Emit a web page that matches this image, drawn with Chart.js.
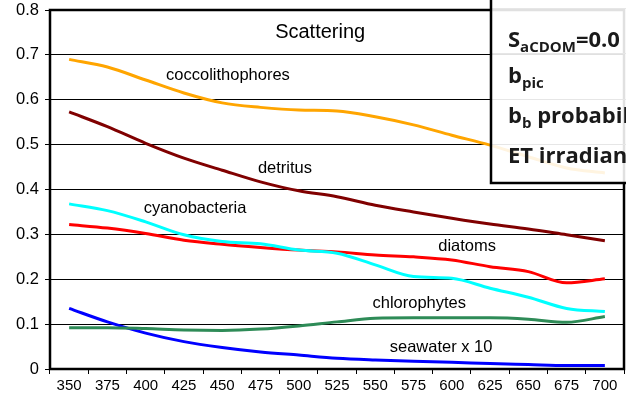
<!DOCTYPE html>
<html>
<head>
<meta charset="utf-8">
<script src="https://cdn.jsdelivr.net/npm/chart.js@4"></script>
<style>
  html, body { margin: 0; padding: 0; background: #fff; }
  #wrap { width: 626px; height: 409px; }
</style>
</head>
<body>
<div id="wrap"><canvas id="scatterChart" width="626" height="409"></canvas></div>
<script>
const wavelengths = ['350', '375', '400', '425', '450', '475', '500', '525', '550', '575', '600', '625', '650', '675', '700'];
const yTicks = [0, 0.1, 0.2, 0.3, 0.4, 0.5, 0.6, 0.7, 0.8];

const coccolithophores = [0.690, 0.673, 0.644, 0.615, 0.593, 0.583, 0.577, 0.575, 0.562, 0.544, 0.521, 0.499, 0.473, 0.448, 0.437];
const detritus = [0.573, 0.540, 0.503, 0.470, 0.443, 0.417, 0.397, 0.384, 0.365, 0.350, 0.336, 0.323, 0.312, 0.299, 0.286];
const cyanobacteria = [0.368, 0.353, 0.328, 0.299, 0.284, 0.279, 0.265, 0.258, 0.232, 0.206, 0.202, 0.180, 0.160, 0.135, 0.128];
const diatoms = [0.322, 0.314, 0.302, 0.287, 0.278, 0.271, 0.265, 0.261, 0.254, 0.250, 0.243, 0.228, 0.217, 0.192, 0.201];
const chlorophytes = [0.092, 0.092, 0.090, 0.087, 0.086, 0.089, 0.096, 0.105, 0.113, 0.114, 0.114, 0.114, 0.111, 0.104, 0.117];
const seawaterX10 = [0.135, 0.105, 0.080, 0.061, 0.048, 0.038, 0.031, 0.024, 0.020, 0.017, 0.015, 0.012, 0.010, 0.008, 0.008];

// text placed in data coordinates (category index, value)
const notes = [
    { text: 'Scattering', x: 6.56, y: 0.749, size: 20 },
    { text: 'coccolithophores', x: 4.15, y: 0.655, size: 16.5 },
    { text: 'detritus', x: 5.64, y: 0.448, size: 16.5 },
    { text: 'cyanobacteria', x: 3.29, y: 0.357, size: 16.5 },
    { text: 'diatoms', x: 10.4, y: 0.272, size: 16.5 },
    { text: 'chlorophytes', x: 9.15, y: 0.145, size: 16.5 },
    { text: 'seawater x 10', x: 9.72, y: 0.047, size: 16.5 }
];

const FONT = '"Liberation Sans", Arial, sans-serif';

const frameAndNotes = {
    id: 'frameAndNotes',
    afterDatasetsDraw(chart) {
        const { ctx, chartArea, scales } = chart;
        ctx.save();
        ctx.strokeStyle = '#000';
        ctx.lineWidth = 2.5;
        ctx.strokeRect(chartArea.left, chartArea.top, chartArea.right - chartArea.left, chartArea.bottom - chartArea.top);

        ctx.fillStyle = '#000';
        ctx.textAlign = 'center';
        ctx.textBaseline = 'middle';
        notes.forEach(n => {
            ctx.font = n.size + 'px ' + FONT;
            ctx.fillText(n.text, scales.x.getPixelForValue(n.x), scales.y.getPixelForValue(n.y));
        });
        ctx.restore();
    },
    afterDraw(chart) {
        // pasted table box overlapping the top right corner
        const { ctx } = chart;
        ctx.save();
        ctx.fillStyle = 'rgba(255,255,255,0.88)';
        ctx.fillRect(491, -2, 140, 185);
        ctx.strokeStyle = '#e6e6e6';
        ctx.lineWidth = 1;
        [8.5, 53.5, 99.5, 144.5].forEach(y => {
            ctx.beginPath();
            ctx.moveTo(492, y);
            ctx.lineTo(626, y);
            ctx.stroke();
        });
        ctx.strokeStyle = '#000';
        ctx.lineWidth = 2.5;
        ctx.strokeRect(491, -5, 150, 188);

        ctx.filter = 'blur(0.5px)';
        ctx.fillStyle = '#1a1a1a';
        ctx.textBaseline = 'alphabetic';
        const big = 'bold 22px "Open Sans", Lato, sans-serif';
        const small = 'bold 15px "Open Sans", Lato, sans-serif';
        const rows = [
            { base: 47, main: 'S', sub: 'aCDOM', rest: '=0.0' },
            { base: 83, main: 'b', sub: 'pic', rest: '' },
            { base: 123, main: 'b', sub: 'b', rest: ' probabil' },
            { base: 163, main: 'ET irradian', sub: '', rest: '' }
        ];
        rows.forEach(r => {
            let x = 508;
            ctx.font = big;
            ctx.fillText(r.main, x, r.base);
            x += ctx.measureText(r.main).width;
            if (r.sub) {
                ctx.font = small;
                ctx.fillText(r.sub, x, r.base + 5);
                x += ctx.measureText(r.sub).width;
            }
            if (r.rest) {
                ctx.font = big;
                ctx.fillText(r.rest, x, r.base);
            }
        });
        ctx.restore();
    }
};

function series(data, color, width) {
    return {
        data: data,
        borderColor: color,
        borderWidth: width || 3,
        pointRadius: 0,
        fill: false,
        tension: 0.4,
        cubicInterpolationMode: 'monotone'
    };
}

const ctx = document.getElementById('scatterChart').getContext('2d');

const scatterChart = new Chart(ctx, {
    type: 'line',
    data: {
        labels: wavelengths,
        datasets: [
            series(coccolithophores, '#ffa500'),
            series(detritus, '#800000'),
            series(cyanobacteria, '#00ffff'),
            series(diatoms, '#ff0000'),
            series(chlorophytes, '#2e8b57'),
            series(seawaterX10, '#0000ff')
        ]
    },
    options: {
        responsive: false,
        animation: false,
        layout: { padding: { top: 10, right: 2, left: 0, bottom: 0 } },
        plugins: {
            legend: { display: false },
            tooltip: { enabled: false }
        },
        scales: {
            x: {
                offset: true,
                grid: {
                    offset: true,
                    drawOnChartArea: false,
                    drawTicks: true,
                    tickLength: 5,
                    color: '#000',
                    lineWidth: 1
                },
                border: { display: false },
                ticks: {
                    color: '#000',
                    font: { family: FONT, size: 15 },
                    padding: 3,
                    maxRotation: 0,
                    autoSkip: false
                },
                afterFit(scale) { scale.height = 40; }
            },
            y: {
                min: 0,
                max: 0.8,
                afterBuildTicks(scale) { scale.ticks = yTicks.map(v => ({ value: v })); },
                grid: {
                    color: '#000',
                    lineWidth: 1,
                    drawTicks: true,
                    tickLength: 5
                },
                border: { display: false },
                ticks: {
                    color: '#000',
                    font: { family: FONT, size: 16.5 },
                    padding: 6,
                    callback: v => (v === 0 ? '0' : v.toFixed(1))
                },
                afterFit(scale) {
                    scale.width = 50;
                    scale.paddingTop = 0;
                    scale.paddingBottom = 0;
                }
            }
        }
    },
    plugins: [frameAndNotes]
});
</script>
</body>
</html>
